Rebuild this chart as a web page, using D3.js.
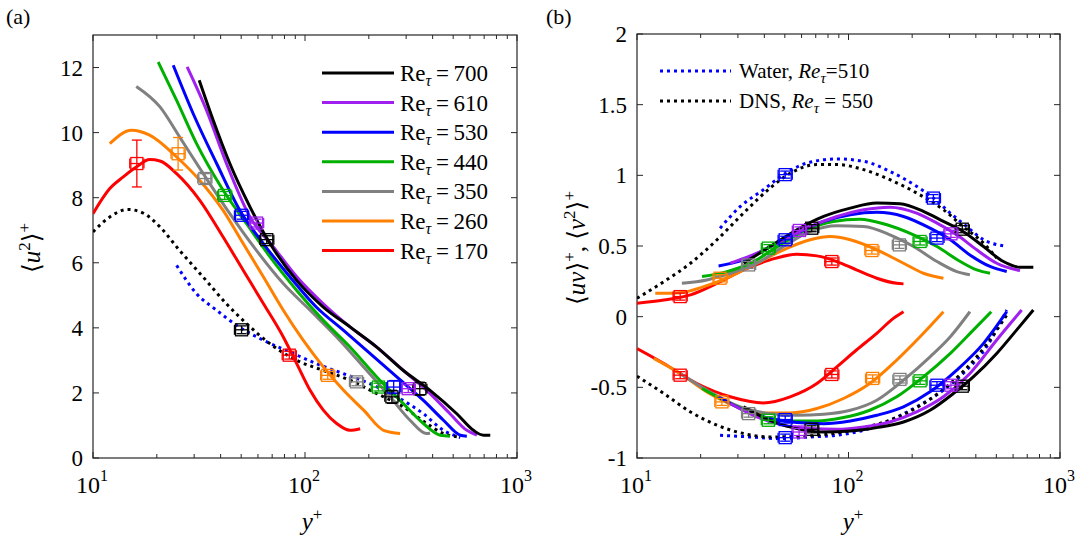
<!DOCTYPE html>
<html><head><meta charset="utf-8">
<script src="https://cdn.jsdelivr.net/npm/d3@7"></script>
<style>body{margin:0;background:#fff}text{font-family:"Liberation Serif","DejaVu Serif",serif}</style>
</head><body><div id="chart"></div>
<script>
// ---- data: [y+, value] ----
const reLabels = ["700", "610", "530", "440", "350", "260", "170"];
const reColors = ["#000000", "#a020f0", "#0000ff", "#00b000", "#808080", "#ff8000", "#ff0000"];

// panel (a) <u^2>+
const u2_700 = [[31.7,11.61],[36.9,10.38],[44.2,9.05],[55,7.72],[68.4,6.59],[91.4,5.46],[122,4.64],[163,4.03],[218,3.41],[291,2.69],[389,2.08],[520,1.36],[623,0.85],[695,0.7],[748,0.7]];
const u2_610 = [[27.8,12.02],[34.3,10.69],[42.6,9.05],[55,7.41],[70.9,6.49],[91.4,5.57],[122,4.74],[163,4.03],[218,3.41],[291,2.69],[389,1.98],[483,1.36],[580,0.85],[647,0.7]];
const u2_530 = [[23.9,12.07],[29.7,10.58],[38.3,9.05],[49.3,7.61],[63.6,6.59],[84.8,5.57],[113,4.64],[152,3.92],[203,3.21],[271,2.49],[362,1.77],[450,1.16],[540,0.7],[580,0.67]];
const u2_440 = [[20.3,12.17],[24.8,10.99],[30.8,9.66],[41.1,8.23],[53,7.2],[68.4,6.18],[91.4,5.15],[122,4.23],[163,3.41],[218,2.49],[291,1.67],[362,1.06],[435,0.7],[483,0.67]];
const u2_350 = [[16,11.42],[20.7,10.79],[25.6,9.87],[33.1,8.74],[44.2,7.51],[59,6.38],[79,5.36],[105.7,4.54],[141,3.72],[189,2.8],[252,1.88],[313,1.16],[375,0.75],[389,0.77]];
const u2_260 = [[12,9.66],[15.2,10.07],[18.5,9.92],[24.8,9.25],[31.9,8.53],[41.1,7.61],[51.1,6.59],[63.6,5.57],[79,4.54],[98,3.62],[122,2.8],[152,2.08],[189,1.47],[235,0.85],[281,0.75]];
const u2_170 = [[10,7.51],[12,8.28],[13.9,8.64],[16,8.94],[18.5,9.17],[20.7,9.13],[24.8,8.74],[31.9,7.92],[41.1,6.79],[51.1,5.77],[63.6,4.75],[79,3.72],[91.4,2.9],[105.7,2.08],[122,1.47],[141,1.06],[163,0.85],[182,0.9]];
const u2_dns = [[10,6.95],[12,7.41],[14.6,7.64],[17.2,7.53],[20.7,7.1],[25.6,6.38],[33.1,5.56],[42.6,4.74],[53,4.13],[68.4,3.51],[91.4,3.0],[122,2.69],[163,2.39],[218,1.98],[291,1.57],[375,1.06],[450,0.75],[520,0.65]];
const u2_water = [[24.8,5.92],[30.8,5.05],[38.3,4.54],[47.5,4.08],[63.6,3.62],[84.8,3.26],[113,2.9],[152,2.59],[203,2.28],[271,1.88],[362,1.36],[450,0.85],[540,0.63]];
// markers: [y+, value, yerr]
const u2_markers = [
  [[66,6.71,0.12],[348,2.13,0.2]],
  [[59.1,7.22,0.12],[307,2.13,0.12]],
  [[50.2,7.46,0.12],[262,2.18,0.2]],
  [[41.8,8.07,0.12],[222,2.18,0.12]],
  [[33.7,8.59,0.15],[175,2.34,0.12]],
  [[25.2,9.35,0.5],[128,2.54,0.12]],
  [[16.1,9.05,0.72],[84.3,3.16,0.12]]
];
const u2_dnsMarkers = [[50.2,3.94,0.12],[257,1.88,0.2]];

// panel (b) <v^2>+ (positive) and <uv>+ (negative)
const v2_700 = [[31.9,.378],[42.6,.496],[57,.615],[76.3,.709],[102,.768],[136,.804],[175,.799],[226,.745],[281,.674],[348,.603],[435,.496],[540,.39],[647,.35],[748,.35]];
const v2_610 = [[27.6,.378],[36.9,.449],[49.3,.544],[66,.638],[88.1,.709],[118,.757],[157,.775],[210,.733],[262,.662],[325,.579],[404,.473],[502,.378],[647,.326]];
const v2_530 = [[24.3,.359],[31.9,.402],[42.6,.496],[57,.591],[76.3,.674],[102,.721],[136,.738],[182,.709],[243,.626],[303,.544],[375,.437],[467,.355],[560,.319]];
const v2_440 = [[20.3,.284],[26.6,.319],[35.6,.39],[47.5,.508],[63.6,.615],[84.8,.674],[113,.69],[152,.65],[203,.579],[262,.496],[338,.39],[404,.331],[467,.307]];
const v2_350 = [[16.3,.236],[21.4,.26],[27.6,.307],[36.9,.378],[49.3,.496],[66,.603],[88.1,.643],[118,.638],[157,.579],[203,.496],[262,.39],[325,.319],[375,.296]];
const v2_260 = [[12.2,.165],[16,.17],[20.7,.213],[27.6,.284],[36.9,.378],[49.3,.473],[66,.544],[82,.567],[102,.544],[136,.473],[182,.378],[226,.307],[281,.272]];
const v2_170 = [[10,.095],[13.4,.118],[17.9,.154],[23.9,.236],[31.9,.331],[42.6,.402],[57,.442],[70.9,.43],[88.1,.39],[109,.331],[136,.272],[169,.236],[182,.232]];
const v2_dns = [[10,.13],[13.4,.248],[17.9,.378],[23.9,.544],[31.9,.733],[42.6,.91],[55,1.028],[70.9,1.076],[88.1,1.076],[118,1.04],[157,.969],[210,.875],[281,.757],[348,.638],[435,.52],[502,.414]];
const v2_water = [[24.7,.626],[30.8,.78],[39.6,.898],[49.3,1.005],[63.6,1.087],[88.1,1.116],[118,1.099],[157,1.028],[210,.922],[252,.839],[303,.733],[362,.638],[435,.544],[540,.501]];

const uv_700 = [[31.9,-.638],[42.6,-.733],[57,-.792],[76.3,-.816],[102,-.809],[136,-.785],[182,-.745],[243,-.662],[313,-.544],[389,-.426],[502,-.26],[623,-.095],[748,.047]];
const uv_610 = [[27.6,-.614],[36.9,-.709],[49.3,-.768],[66,-.792],[88.1,-.797],[118,-.78],[157,-.745],[210,-.674],[281,-.567],[375,-.402],[502,-.165],[659,.047]];
const uv_530 = [[24.3,-.567],[31.9,-.662],[42.6,-.721],[57,-.749],[76.3,-.757],[102,-.738],[136,-.698],[182,-.638],[243,-.532],[325,-.378],[435,-.189],[560,.035]];
const uv_440 = [[20.3,-.508],[27.6,-.614],[39.6,-.709],[53,-.738],[70.9,-.738],[94.7,-.714],[126,-.662],[169,-.567],[226,-.426],[303,-.26],[389,-.095],[473,.035]];
const uv_350 = [[16,-.402],[21.4,-.52],[30.8,-.638],[42.6,-.686],[57,-.697],[76.3,-.69],[102,-.662],[136,-.591],[182,-.449],[243,-.284],[303,-.142],[375,.035]];
const uv_260 = [[12,-.295],[16,-.402],[21.4,-.532],[28.6,-.626],[39.6,-.681],[53,-.681],[70.9,-.65],[94.7,-.579],[126,-.473],[169,-.307],[218,-.142],[281,.035]];
const uv_170 = [[10,-.225],[13.4,-.331],[19.2,-.473],[27.6,-.567],[39.6,-.61],[53,-.567],[70.9,-.473],[88.1,-.355],[109,-.236],[136,-.118],[163,-.012],[182,.035]];
const uv_dns = [[10,-.421],[13.4,-.544],[17.9,-.674],[23.9,-.768],[31.9,-.827],[42.6,-.851],[61.2,-.846],[88.1,-.823],[126,-.775],[169,-.714],[226,-.615],[303,-.473],[404,-.284],[502,-.095],[560,.012]];
const uv_water = [[24.7,-.839],[34.3,-.851],[47.5,-.863],[66,-.851],[88.1,-.839],[118,-.804],[157,-.733],[210,-.638],[281,-.52],[362,-.378],[450,-.213],[560,.047]];

const v2_markers = [
  [[67,.626],[345,.619]],
  [[58.6,.61],[305,.586]],
  [[50.2,.544],[262,.556]],
  [[41.8,.485],[218,.532]],
  [[33.7,.366],[174,.508]],
  [[24.7,.272],[129,.468]],
  [[16,.142],[83.4,.39]]
];
const uv_markers = [
  [[67,-.797],[345,-.492]],
  [[58.4,-.816],[305,-.485]],
  [[50.2,-.728],[262,-.485]],
  [[41.8,-.733],[218,-.454]],
  [[33.7,-.686],[175,-.444]],
  [[25.2,-.603],[130,-.437]],
  [[16,-.414],[83.4,-.409]]
];
const water_markers = [[50.2,1.005],[252,.839],[50.2,-.856]];

const yTicksA = [0, 2, 4, 6, 8, 10, 12];
const yTicksB = [-1, -0.5, 0, 0.5, 1, 1.5, 2];
const xTickExp = [1, 2, 3];

// ---- drawing ----
const W = 1088, H = 544;
const svg = d3.select("#chart").append("svg").attr("width", W).attr("height", H);

function panel(left, right, top, bottom, yDomain, yTicks) {
  const x = d3.scaleLog().domain([10, 1000]).range([left, right]);
  const y = d3.scaleLinear().domain(yDomain).range([bottom, top]);
  const g = svg.append("g");
  const minor = [];
  for (let d = 10; d < 1000; d *= 10) for (let k = 2; k <= 9; k++) minor.push(d * k);
  const axc = "#262626";
  // ticks inside, mirrored
  xTickExp.forEach(e => {
    const px = x(Math.pow(10, e));
    g.append("line").attr("x1", px).attr("x2", px).attr("y1", bottom).attr("y2", bottom - 6).attr("stroke", axc);
    g.append("line").attr("x1", px).attr("x2", px).attr("y1", top).attr("y2", top + 6).attr("stroke", axc);
    g.append("text").attr("x", px - 5).attr("y", bottom + 35).attr("font-size", 24).attr("text-anchor", "middle").text("10");
    g.append("text").attr("x", px + 7).attr("y", bottom + 23).attr("font-size", 16).text(e);
  });
  minor.forEach(v => {
    const px = x(v);
    g.append("line").attr("x1", px).attr("x2", px).attr("y1", bottom).attr("y2", bottom - 4).attr("stroke", axc);
    g.append("line").attr("x1", px).attr("x2", px).attr("y1", top).attr("y2", top + 4).attr("stroke", axc);
  });
  yTicks.forEach(v => {
    const py = y(v);
    g.append("line").attr("x1", left).attr("x2", left + 6).attr("y1", py).attr("y2", py).attr("stroke", axc);
    g.append("line").attr("x1", right).attr("x2", right - 6).attr("y1", py).attr("y2", py).attr("stroke", axc);
    g.append("text").attr("x", left - 10).attr("y", py + 8).attr("font-size", 23).attr("text-anchor", "end").text(v);
  });
  g.append("rect").attr("x", left).attr("y", top).attr("width", right - left).attr("height", bottom - top)
    .attr("fill", "none").attr("stroke", axc).attr("stroke-width", 1.2);
  const clip = "clip" + left;
  svg.append("clipPath").attr("id", clip).append("rect").attr("x", left).attr("y", top).attr("width", right - left).attr("height", bottom - top);
  const plot = svg.append("g").attr("clip-path", `url(#${clip})`);
  return { x, y, plot };
}

function curve(p, data, color, dotted) {
  const line = d3.line().x(d => p.x(d[0])).y(d => p.y(d[1])).curve(d3.curveMonotoneX);
  p.plot.append("path").attr("d", line(data)).attr("fill", "none").attr("stroke", color)
    .attr("stroke-width", 3).attr("stroke-dasharray", dotted ? "3,4" : null);
}

function marker(p, d, color) {
  const cx = p.x(d[0]), cy = p.y(d[1]);
  const xl = p.x(d[0] / 1.08), xr = p.x(d[0] * 1.08);
  const yerr = d[2] || 0.03 * (p.y.domain()[1] - p.y.domain()[0]) / 2;
  const yt = p.y(d[1] + yerr), yb = p.y(d[1] - yerr);
  const g = p.plot.append("g").attr("stroke", color).attr("stroke-width", 1.3).attr("fill", "none");
  g.append("rect").attr("x", cx - 6).attr("y", cy - 6).attr("width", 12).attr("height", 12);
  g.append("line").attr("x1", xl).attr("x2", xr).attr("y1", cy).attr("y2", cy);
  g.append("line").attr("x1", xl).attr("x2", xl).attr("y1", cy - 5).attr("y2", cy + 5);
  g.append("line").attr("x1", xr).attr("x2", xr).attr("y1", cy - 5).attr("y2", cy + 5);
  g.append("line").attr("x1", cx).attr("x2", cx).attr("y1", yt).attr("y2", yb);
  g.append("line").attr("x1", cx - 5).attr("x2", cx + 5).attr("y1", yt).attr("y2", yt);
  g.append("line").attr("x1", cx - 5).attr("x2", cx + 5).attr("y1", yb).attr("y2", yb);
}

// panel (a)
const pa = panel(93, 517, 35, 458, [0, 13], yTicksA);
const u2Series = [u2_700, u2_610, u2_530, u2_440, u2_350, u2_260, u2_170];
curve(pa, u2_water, "#0000ff", true);
curve(pa, u2_dns, "#000000", true);
u2Series.slice().reverse().forEach((s, i) => curve(pa, s, reColors[6 - i], false));
u2_markers.forEach((ms, i) => ms.forEach(m => marker(pa, m, reColors[i])));
u2_dnsMarkers.forEach(m => marker(pa, m, "#000000"));

// panel (b)
const pb = panel(637, 1060, 34, 458, [-1, 2], yTicksB);
const v2Series = [v2_700, v2_610, v2_530, v2_440, v2_350, v2_260, v2_170];
const uvSeries = [uv_700, uv_610, uv_530, uv_440, uv_350, uv_260, uv_170];
curve(pb, v2_water, "#0000ff", true);
curve(pb, uv_water, "#0000ff", true);
curve(pb, v2_dns, "#000000", true);
curve(pb, uv_dns, "#000000", true);
for (let i = 6; i >= 0; i--) { curve(pb, v2Series[i], reColors[i], false); curve(pb, uvSeries[i], reColors[i], false); }
v2_markers.forEach((ms, i) => ms.forEach(m => marker(pb, [m[0], m[1], 0.025], reColors[i])));
uv_markers.forEach((ms, i) => ms.forEach(m => marker(pb, [m[0], m[1], 0.025], reColors[i])));
water_markers.forEach(m => marker(pb, [m[0], m[1], 0.025], "#0000ff"));

// legend (a)
reLabels.forEach((lab, i) => {
  const ly = 73 + i * 29.6;
  svg.append("line").attr("x1", 322).attr("x2", 394).attr("y1", ly).attr("y2", ly).attr("stroke", reColors[i]).attr("stroke-width", 3);
  const t = svg.append("text").attr("x", 400).attr("y", ly + 8).attr("font-size", 23);
  t.append("tspan").text("Re");
  t.append("tspan").attr("font-size", 16).attr("dy", 5).attr("font-style", "italic").text("τ");
  t.append("tspan").attr("dy", -5).text("\u2009=\u2009" + lab);
});
// legend (b)
[["Water, ", "510", "#0000ff", "="], ["DNS, ", "550", "#000000", " = "]].forEach((r, i) => {
  const ly = 71 + i * 30;
  svg.append("line").attr("x1", 660).attr("x2", 731).attr("y1", ly).attr("y2", ly).attr("stroke", r[2]).attr("stroke-width", 3).attr("stroke-dasharray", "3,4");
  const t = svg.append("text").attr("x", 739).attr("y", ly + 7).attr("font-size", 21);
  t.append("tspan").text(r[0]);
  t.append("tspan").attr("font-style", "italic").text("Re");
  t.append("tspan").attr("font-size", 15).attr("dy", 5).attr("font-style", "italic").text("τ");
  t.append("tspan").attr("dy", -5).text(r[3] + r[1]);
});

// panel labels and axis titles
svg.append("text").attr("x", 6).attr("y", 24).attr("font-size", 22).text("(a)");
svg.append("text").attr("x", 546).attr("y", 24).attr("font-size", 22).text("(b)");
function yplus(cx) {
  const t = svg.append("text").attr("x", cx).attr("y", 530).attr("font-size", 25).attr("text-anchor", "middle");
  t.append("tspan").attr("font-style", "italic").text("y");
  t.append("tspan").attr("font-size", 17).attr("dy", -10).text("+");
}
yplus(312); yplus(853);
const la = svg.append("text").attr("transform", "translate(40,248) rotate(-90)").attr("font-size", 25).attr("text-anchor", "middle");
la.append("tspan").text("⟨");
la.append("tspan").attr("font-style", "italic").text("u");
la.append("tspan").attr("font-size", 17).attr("dy", -10).text("2");
la.append("tspan").attr("dy", 10).text("⟩");
la.append("tspan").attr("font-size", 17).attr("dy", -10).text("+");
const lb = svg.append("text").attr("transform", "translate(585,248) rotate(-90)").attr("font-size", 25).attr("text-anchor", "middle");
lb.append("tspan").text("⟨");
lb.append("tspan").attr("font-style", "italic").text("uv");
lb.append("tspan").text("⟩");
lb.append("tspan").attr("font-size", 17).attr("dy", -10).text("+");
lb.append("tspan").attr("dy", 10).text(", ⟨");
lb.append("tspan").attr("font-style", "italic").text("v");
lb.append("tspan").attr("font-size", 17).attr("dy", -10).text("2");
lb.append("tspan").attr("dy", 10).text("⟩");
lb.append("tspan").attr("font-size", 17).attr("dy", -10).text("+");
</script></body></html>
